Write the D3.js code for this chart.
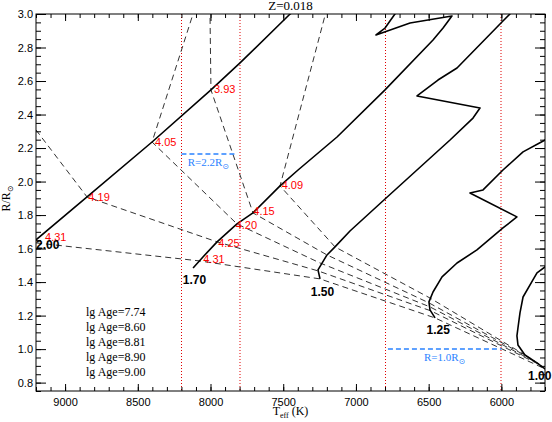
<!DOCTYPE html>
<html>
<head>
<meta charset="utf-8">
<script src="https://cdn.jsdelivr.net/npm/d3@7"></script>
<style>
	body { margin: 0; background: #fff; }
	svg { display: block; }
	.serif { font-family: 'Liberation Serif', 'Times New Roman', serif; }
	.sans { font-family: 'Liberation Sans', Arial, sans-serif; }
</style>
</head>
<body>
<div id="chart"><svg></svg></div>
<script>
//Values: temperature (K), radius (R/Rsun).
const title = 'Z=0.018';
const xTicks = [9000, 8500, 8000, 7500, 7000, 6500, 6000];
const yTicks = [0.8, 1.0, 1.2, 1.4, 1.6, 1.8, 2.0, 2.2, 2.4, 2.6, 2.8, 3.0];
const masses = ['2.00', '1.70', '1.50', '1.25', '1.00'];
const ages = ['7.74', '8.60', '8.81', '8.90', '9.00'];
const refTemps = [8200, 7800, 6800, 6000];

//Evolutionary tracks, one per mass.
const track200 = [[9200, 1.652], [8849, 1.908], [8402, 2.236], [7997, 2.547], [7797, 2.708], [7460, 2.994], [7385, 3.05]];
const track170 = [[8120, 1.484], [8052, 1.550], [7955, 1.640], [7818, 1.747], [7708, 1.813], [7522, 1.974], [7398, 2.069],
	[7130, 2.266], [6800, 2.547], [6470, 2.845], [6401, 2.916], [6340, 2.988], [6628, 2.946], [6862, 2.875],
	[6800, 2.916], [6732, 3.0], [6704, 3.03]];
const track150 = [[7247, 1.419], [7261, 1.473], [7199, 1.562], [7144, 1.610], [7041, 1.705], [6800, 1.896], [6353, 2.248],
	[6195, 2.379], [6147, 2.439], [6580, 2.511], [6436, 2.606], [6305, 2.678], [5996, 2.952], [5941, 3.0], [5906, 3.036]];
const track125 = [[6456, 1.186], [6491, 1.234], [6498, 1.282], [6470, 1.341], [6408, 1.431], [6305, 1.514], [6168, 1.592],
	[5989, 1.723], [5893, 1.789], [6216, 1.932], [6126, 1.950], [5989, 2.069], [5851, 2.177], [5700, 2.248], [5597, 2.296]];
const track100 = [[5666, 0.864], [5700, 0.882], [5755, 0.918], [5838, 0.965], [5886, 1.025], [5893, 1.079], [5886, 1.126],
	[5872, 1.216], [5851, 1.311], [5783, 1.413], [5755, 1.455], [5700, 1.490], [5631, 1.532]];

//Isochrones, one per age.
const iso774 = [[9200, 1.634], [8072, 1.526], [7247, 1.419], [6456, 1.186], [5700, 0.882]];
const iso860 = [[9200, 2.308], [8849, 1.908], [7955, 1.640], [7261, 1.467], [6484, 1.228], [5721, 0.900]];
const iso881 = [[8107, 3.036], [8402, 2.236], [7818, 1.747], [7247, 1.514], [6491, 1.252], [5741, 0.912]];
const iso890 = [[8004, 3.036], [7997, 2.547], [7708, 1.813], [7199, 1.562], [6498, 1.276], [5769, 0.930]];
const iso900 = [[7199, 3.036], [7522, 1.974], [7144, 1.610], [6491, 1.305], [5803, 0.947]];

//lg g marks along the 2.00 and 1.70 tracks: [T, R, text].
const loggMarks = [[9138, 1.671, '4.31'], [8840, 1.906, '4.19'], [8382, 2.238, '4.05'], [7976, 2.551, '3.93'],
	[8050, 1.536, '4.31'], [7947, 1.635, '4.25'], [7827, 1.741, '4.20'], [7706, 1.826, '4.15'], [7511, 1.980, '4.09']];
//Where each mass is written: [T, R].
const massMarks = [[9200, 1.598], [8191, 1.389], [7311, 1.317], [6514, 1.091], [5817, 0.816]];
//Constant radius markers: [R drawn, T from, T to, text].
const radiusMarks = [[2.165, 8200, 7830, '2.2'], [1.0, 6780, 6000, '1.0']];

const tracks = [track200, track170, track150, track125, track100];
const isochrones = [iso774, iso860, iso881, iso890, iso900];

const width = 552, height = 422;
const margin = {top: 14, right: 7, bottom: 31, left: 36};
const innerWidth = width - margin.left - margin.right;
const innerHeight = height - margin.top - margin.bottom;

const x = d3.scaleLinear().domain([9200, 5700]).range([0, innerWidth]);
const y = d3.scaleLinear().domain([0.75, 3.0]).range([innerHeight, 0]);
const line = d3.line().x(d => x(d[0])).y(d => y(d[1]));

const svg = d3.select('#chart').select('svg')
	.attr('width', width)
	.attr('height', height);
const g = svg.append('g')
	.attr('transform', `translate(${margin.left}, ${margin.top})`);

g.append('clipPath')
	.attr('id', 'plotClip')
	.append('rect')
	.attr('width', innerWidth)
	.attr('height', innerHeight);
const plot = g.append('g').attr('clip-path', 'url(#plotClip)');

//Red dotted temperature markers. The first and third sit on a pixel centre, as in the original.
plot.selectAll('.refT')
	.data(refTemps)
	.join('line')
	.attr('class', 'refT')
	.attr('x1', (d, i) => Math.round(x(d)) + (i % 2 ? 0 : 0.5))
	.attr('x2', (d, i) => Math.round(x(d)) + (i % 2 ? 0 : 0.5))
	.attr('y1', 0).attr('y2', innerHeight)
	.style('stroke', '#e00000')
	.style('stroke-width', 1)
	.style('stroke-dasharray', '1,2');

//Isochrones.
plot.selectAll('.iso')
	.data(isochrones)
	.join('path')
	.attr('class', 'iso')
	.attr('d', line)
	.style('fill', 'none')
	.style('stroke', '#333')
	.style('stroke-width', 1)
	.style('stroke-dasharray', '6,4');

//Tracks.
plot.selectAll('.track')
	.data(tracks)
	.join('path')
	.attr('class', 'track')
	.attr('d', line)
	.style('fill', 'none')
	.style('stroke', '#000')
	.style('stroke-width', 1.6)
	.style('stroke-linejoin', 'round');

//Radius markers.
plot.selectAll('.refR')
	.data(radiusMarks)
	.join('line')
	.attr('class', 'refR')
	.attr('x1', d => x(d[1])).attr('x2', d => x(d[2]))
	.attr('y1', d => y(d[0])).attr('y2', d => y(d[0]))
	.style('stroke', '#2a82ff')
	.style('stroke-width', 1.5)
	.style('stroke-dasharray', '5,3');
const rText = g.selectAll('.refRText')
	.data(radiusMarks)
	.join('text')
	.attr('class', 'refRText serif')
	.attr('x', d => (x(d[1]) + x(d[2])) / 2)
	.attr('y', d => y(d[0]) + 12)
	.attr('text-anchor', 'middle')
	.style('font-size', '11px')
	.style('fill', '#2a82ff');
rText.append('tspan').text(d => `R=${d[3]}R`);
rText.append('tspan')
	.text('\u2299')
	.attr('dy', 3)
	.style('font-size', '8px')
	.style('font-family', 'DejaVu Sans');

//lg g marks.
g.selectAll('.logg')
	.data(loggMarks)
	.join('text')
	.attr('class', 'logg sans')
	.attr('x', d => x(d[0]))
	.attr('y', d => y(d[1]))
	.attr('dy', '0.35em')
	.text(d => d[2])
	.style('font-size', '11px')
	.style('fill', '#ff0000');

//Mass labels.
g.selectAll('.mass')
	.data(massMarks)
	.join('text')
	.attr('class', 'mass sans')
	.attr('x', d => x(d[0]))
	.attr('y', d => y(d[1]))
	.text((d, i) => masses[i])
	.style('font-size', '12px')
	.style('font-weight', 'bold')
	.style('fill', '#000');

//Age legend.
g.selectAll('.age')
	.data(ages)
	.join('text')
	.attr('class', 'age serif')
	.attr('x', 50)
	.attr('y', (d, i) => 302 + i * 15)
	.text(d => `lg Age=${d}`)
	.style('font-size', '12px');

//Axes: labelled major ticks, minor ticks, mirrored on top and right.
const xMinor = d3.range(5700, 9201, 100);
const yMinor = d3.range(0.75, 3.001, 0.05);
function styleAxis(sel) {
	sel.select('.domain').remove();
	sel.selectAll('.tick line').style('stroke', '#000');
	sel.selectAll('.tick text')
		.filter(function() { return this.textContent === ''; })
		.remove();
	sel.selectAll('.tick text')
		.attr('class', 'sans')
		.style('font-size', '11px')
		.style('fill', '#000');
}
g.append('g')
	.attr('transform', `translate(0, ${innerHeight})`)
	.call(d3.axisBottom(x).tickValues(xMinor).tickSize(-4).tickFormat(''))
	.call(styleAxis);
g.append('g')
	.attr('transform', `translate(0, ${innerHeight})`)
	.call(d3.axisBottom(x).tickValues(xTicks).tickSize(-7).tickPadding(7).tickFormat(d3.format('d')))
	.call(styleAxis);
g.append('g')
	.call(d3.axisTop(x).tickValues(xMinor).tickSize(-4).tickFormat(''))
	.call(styleAxis);
g.append('g')
	.call(d3.axisTop(x).tickValues(xTicks).tickSize(-7).tickFormat(''))
	.call(styleAxis);
g.append('g')
	.call(d3.axisLeft(y).tickValues(yMinor).tickSize(-5).tickFormat(''))
	.call(styleAxis);
g.append('g')
	.call(d3.axisLeft(y).tickValues(yTicks).tickSize(-10).tickPadding(3).tickFormat(d3.format('.1f')))
	.call(styleAxis);
g.append('g')
	.attr('transform', `translate(${innerWidth}, 0)`)
	.call(d3.axisRight(y).tickValues(yMinor).tickSize(-5).tickFormat(''))
	.call(styleAxis);
g.append('g')
	.attr('transform', `translate(${innerWidth}, 0)`)
	.call(d3.axisRight(y).tickValues(yTicks).tickSize(-10).tickFormat(''))
	.call(styleAxis);

//Frame.
g.append('rect')
	.attr('width', innerWidth)
	.attr('height', innerHeight)
	.style('fill', 'none')
	.style('stroke', '#000')
	.style('stroke-width', 1);

//Title and axis titles.
g.append('text')
	.attr('class', 'serif')
	.attr('x', innerWidth / 2)
	.attr('y', -4.5)
	.attr('text-anchor', 'middle')
	.style('font-size', '13px')
	.text(title);
const xTitle = g.append('text')
	.attr('class', 'serif')
	.attr('x', innerWidth / 2)
	.attr('y', innerHeight + 24)
	.attr('text-anchor', 'middle')
	.style('font-size', '12px');
xTitle.append('tspan').text('T');
xTitle.append('tspan').text('eff').attr('dy', 3).style('font-size', '8px');
xTitle.append('tspan').text('\u00a0(K)').attr('dy', -3);
const yTitle = g.append('text')
	.attr('class', 'serif')
	.attr('transform', `translate(${-26}, ${innerHeight / 2 - 4}) rotate(-90)`)
	.attr('text-anchor', 'middle')
	.style('font-size', '12px');
yTitle.append('tspan').text('R/R');
yTitle.append('tspan').text('\u2299').attr('dy', 3).style('font-size', '8px').style('font-family', 'DejaVu Sans');
</script>
</body>
</html>
